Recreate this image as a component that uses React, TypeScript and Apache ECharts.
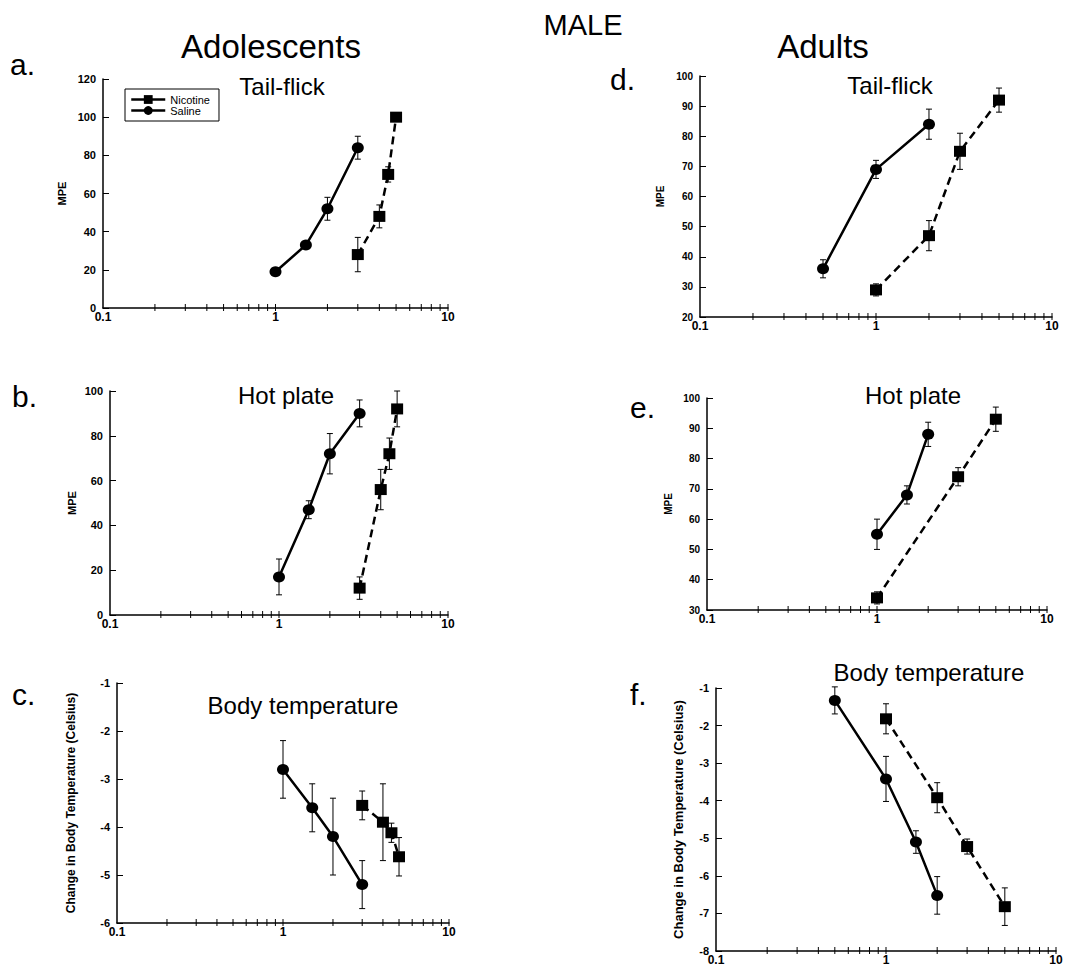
import React, { useEffect, useRef } from 'react';
import * as echarts from 'echarts';

const FONT = '"Liberation Sans", Arial, sans-serif';

// ---------- data ----------
const seriesNames = ['Nicotine', 'Saline'];
const xTickValues = [0.2, 0.3, 0.4, 0.5, 0.6, 0.7, 0.8, 0.9, 1, 2, 3, 4, 5, 6, 7, 8, 9, 10];
const xLabelValues = [0.1, 1, 10];

// a. Adolescents, Tail-flick (MPE)
const aSalDose = [1, 1.5, 2, 3];
const aSalVal = [19, 33, 52, 84];
const aSalErr = [1.5, 1.5, 6, 6];
const aNicDose = [3, 4, 4.5, 5];
const aNicVal = [28, 48, 70, 100];
const aNicErr = [9, 6, 4, 2];

// b. Adolescents, Hot plate (MPE)
const bSalDose = [1, 1.5, 2, 3];
const bSalVal = [17, 47, 72, 90];
const bSalErr = [8, 4, 9, 6];
const bNicDose = [3, 4, 4.5, 5];
const bNicVal = [12, 56, 72, 92];
const bNicErr = [5, 9, 7, 8];

// c. Adolescents, Body temperature (Celsius change)
const cSalDose = [1, 1.5, 2, 3];
const cSalVal = [-2.8, -3.6, -4.2, -5.2];
const cSalErr = [0.6, 0.5, 0.8, 0.5];
const cNicDose = [3, 4, 4.5, 5];
const cNicVal = [-3.55, -3.9, -4.12, -4.62];
const cNicErr = [0.3, 0.8, 0.2, 0.4];

// d. Adults, Tail-flick (MPE)
const dSalDose = [0.5, 1, 2];
const dSalVal = [36, 69, 84];
const dSalErr = [3, 3, 5];
const dNicDose = [1, 2, 3, 5];
const dNicVal = [29, 47, 75, 92];
const dNicErr = [2, 5, 6, 4];

// e. Adults, Hot plate (MPE)
const eSalDose = [1, 1.5, 2];
const eSalVal = [55, 68, 88];
const eSalErr = [5, 3, 4];
const eNicDose = [1, 3, 5];
const eNicVal = [34, 74, 93];
const eNicErr = [2, 3, 4];

// f. Adults, Body temperature (Celsius change)
const fSalDose = [0.5, 1, 1.5, 2];
const fSalVal = [-1.33, -3.42, -5.1, -6.52];
const fSalErr = [0.36, 0.6, 0.3, 0.5];
const fNicDose = [1, 2, 3, 5];
const fNicVal = [-1.82, -3.92, -5.22, -6.82];
const fNicErr = [0.4, 0.4, 0.2, 0.5];

// ---------- layout ----------
const panels = [
  { grid: { left: 103, top: 79, width: 345, height: 229 }, yMin: 0, yMax: 120, yInt: 20, yName: 'MPE', nameGap: 36, nameSize: 11, labelSize: 11,
    sal: [aSalDose, aSalVal, aSalErr], nic: [aNicDose, aNicVal, aNicErr] },
  { grid: { left: 110, top: 391, width: 338, height: 224 }, yMin: 0, yMax: 100, yInt: 20, yName: 'MPE', nameGap: 33, nameSize: 11, labelSize: 11,
    sal: [bSalDose, bSalVal, bSalErr], nic: [bNicDose, bNicVal, bNicErr] },
  { grid: { left: 117, top: 683, width: 332, height: 240 }, yMin: -6, yMax: -1, yInt: 1, yName: 'Change in Body Temperature (Celsius)', nameGap: 40, nameSize: 12, labelSize: 11,
    sal: [cSalDose, cSalVal, cSalErr], nic: [cNicDose, cNicVal, cNicErr] },
  { grid: { left: 700, top: 76, width: 352, height: 241 }, yMin: 20, yMax: 100, yInt: 10, yName: 'MPE', nameGap: 35, nameSize: 10, labelSize: 10,
    sal: [dSalDose, dSalVal, dSalErr], nic: [dNicDose, dNicVal, dNicErr] },
  { grid: { left: 707, top: 398, width: 340, height: 212 }, yMin: 30, yMax: 100, yInt: 10, yName: 'MPE', nameGap: 34, nameSize: 10, labelSize: 10,
    sal: [eSalDose, eSalVal, eSalErr], nic: [eNicDose, eNicVal, eNicErr] },
  { grid: { left: 716, top: 688, width: 340, height: 263 }, yMin: -8, yMax: -1, yInt: 1, yName: 'Change in Body Temperature (Celsius)', nameGap: 31, nameSize: 13, labelSize: 11,
    sal: [fSalDose, fSalVal, fSalErr], nic: [fNicDose, fNicVal, fNicErr] },
];

const texts = [
  { text: 'MALE', x: 583, y: 25, size: 29 },
  { text: 'Adolescents', x: 271, y: 46, size: 33 },
  { text: 'Adults', x: 823, y: 46, size: 33 },
  { text: 'a.', x: 10, y: 64, size: 30, left: true },
  { text: 'b.', x: 12, y: 396, size: 30, left: true },
  { text: 'c.', x: 12, y: 694, size: 30, left: true },
  { text: 'd.', x: 610, y: 79, size: 30, left: true },
  { text: 'e.', x: 630, y: 407, size: 30, left: true },
  { text: 'f.', x: 630, y: 694, size: 30, left: true },
  { text: 'Tail-flick', x: 282, y: 86, size: 24 },
  { text: 'Hot plate', x: 286, y: 395, size: 24 },
  { text: 'Body temperature', x: 303, y: 705, size: 24 },
  { text: 'Tail-flick', x: 890, y: 85, size: 24 },
  { text: 'Hot plate', x: 913, y: 395, size: 24 },
  { text: 'Body temperature', x: 929, y: 672, size: 24 },
];

const errRender = (params: any, api: any) => {
  const x = api.value(0);
  const a = api.coord([x, api.value(1)]);
  const b = api.coord([x, api.value(2)]);
  const w = 3;
  const st = { stroke: '#000', lineWidth: 1 };
  return {
    type: 'group',
    children: [
      { type: 'line', shape: { x1: a[0], y1: a[1], x2: b[0], y2: b[1] }, style: st },
      { type: 'line', shape: { x1: a[0] - w, y1: a[1], x2: a[0] + w, y2: a[1] }, style: st },
      { type: 'line', shape: { x1: b[0] - w, y1: b[1], x2: b[0] + w, y2: b[1] }, style: st },
    ],
  };
};

const tickRender = (params: any, api: any) => {
  const p = api.coord([api.value(0), api.value(1)]);
  return {
    type: 'line',
    shape: { x1: p[0], y1: p[1] - 4, x2: p[0], y2: p[1] + 3 },
    style: { stroke: '#000', lineWidth: 1 },
  };
};

function buildOption() {
  const grid: any[] = [];
  const xAxis: any[] = [];
  const yAxis: any[] = [];
  const series: any[] = [];
  panels.forEach((p, i) => {
    grid.push({ ...p.grid, outerBoundsMode: 'none', containLabel: false });
    xAxis.push({
      type: 'log', logBase: 10, gridIndex: i, min: 0.1, max: 10,
      axisLine: { show: true, onZero: false, lineStyle: { color: '#000', width: 1.5 } },
      axisTick: { show: false },
      minorTick: { show: false },
      splitLine: { show: false },
      axisLabel: {
        color: '#000', fontFamily: FONT, fontWeight: 'bold', fontSize: 12, margin: 3,
        formatter: (v: number) => {
          const r = xLabelValues.find((t) => Math.abs(t - v) / t < 1e-6);
          return r !== undefined ? String(r) : '';
        },
      },
    });
    yAxis.push({
      type: 'value', gridIndex: i, min: p.yMin, max: p.yMax, interval: p.yInt,
      name: p.yName, nameLocation: 'middle', nameGap: p.nameGap,
      nameTextStyle: { color: '#000', fontFamily: FONT, fontWeight: 'bold', fontSize: p.nameSize },
      axisLine: { show: true, onZero: false, lineStyle: { color: '#000', width: 1.5 } },
      axisTick: { show: true, inside: true, length: 6, lineStyle: { color: '#000', width: 1 } },
      splitLine: { show: false },
      axisLabel: { color: '#000', fontFamily: FONT, fontWeight: 'bold', fontSize: p.labelSize, margin: 7 },
    });
    const [sd, sv, se] = p.sal;
    const [nd, nv, ne] = p.nic;
    series.push({
      type: 'custom', xAxisIndex: i, yAxisIndex: i, silent: true, z: 1,
      renderItem: tickRender, encode: { x: 0, y: 1 },
      data: xTickValues.map((v) => [v, p.yMin]),
    });
    series.push({
      type: 'custom', xAxisIndex: i, yAxisIndex: i, silent: true, z: 2,
      renderItem: errRender, encode: { x: 0, y: [1, 2] },
      data: [
        ...sd.map((d, k) => [d, sv[k] - se[k], sv[k] + se[k]]),
        ...nd.map((d, k) => [d, nv[k] - ne[k], nv[k] + ne[k]]),
      ],
    });
    series.push({
      name: seriesNames[0], type: 'line', xAxisIndex: i, yAxisIndex: i, z: 3,
      data: nd.map((d, k) => [d, nv[k]]),
      symbol: 'rect', symbolSize: [12, 11],
      itemStyle: { color: '#000' },
      lineStyle: { color: '#000', width: 2.5, type: [8, 5] },
    });
    series.push({
      name: seriesNames[1], type: 'line', xAxisIndex: i, yAxisIndex: i, z: 3,
      data: sd.map((d, k) => [d, sv[k]]),
      symbol: 'circle', symbolSize: [12, 11],
      itemStyle: { color: '#000' },
      lineStyle: { color: '#000', width: 2.5, type: 'solid' },
    });
  });

  const graphic = texts.map((t) => ({
    type: 'text', x: t.x, y: t.y, silent: true,
    style: {
      text: t.text, fill: '#000', fontFamily: FONT, fontSize: t.size,
      align: t.left ? 'left' : 'center', verticalAlign: 'middle',
    },
  }));

  return {
    animation: false,
    backgroundColor: '#fff',
    grid, xAxis, yAxis, series, graphic,
    legend: {
      data: seriesNames,
      left: 125, top: 89, orient: 'vertical',
      itemWidth: 34, itemHeight: 11, itemGap: 0,
      padding: [5, 9, 5, 5],
      borderColor: '#000', borderWidth: 1, borderRadius: 0,
      lineStyle: { type: 'solid', width: 2.5, color: '#000' },
      textStyle: { color: '#000', fontFamily: FONT, fontSize: 11, lineHeight: 11 },
    },
  };
}

export default function App() {
  const ref = useRef<HTMLDivElement>(null);
  useEffect(() => {
    if (!ref.current) return;
    const chart = echarts.init(ref.current, undefined, { renderer: 'svg' });
    chart.setOption(buildOption() as any);
    return () => chart.dispose();
  }, []);
  return (
    <div
      ref={ref}
      style={{ position: 'absolute', left: 0, top: 0, width: 1088, height: 972, background: '#fff' }}
    />
  );
}
